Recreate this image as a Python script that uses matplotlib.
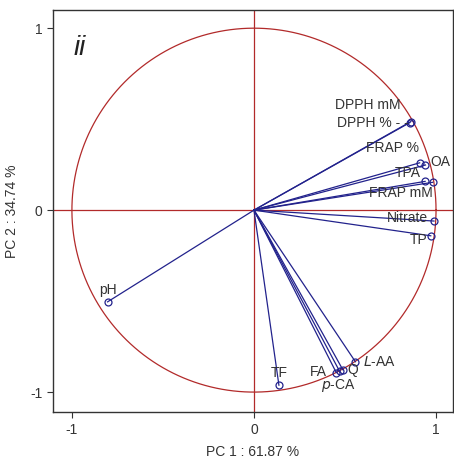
import matplotlib.pyplot as plt
import numpy as np

plt.rcParams['font.family'] = ['Liberation Sans', 'DejaVu Sans']
plt.rcParams['axes.unicode_minus'] = False

# variable loadings on the first two principal components
variables = ["DPPH mM", "DPPH %", "FRAP %", "OA", "TPA", "FRAP mM",
             "Nitrate", "TP", "pH", "TF", "FA", "p-CA", "Q", "L-AA"]
pc1 = [0.862, 0.856, 0.910, 0.942, 0.940, 0.982, 0.989, 0.971,
       -0.804, 0.137, 0.452, 0.470, 0.488, 0.557]
pc2 = [0.487, 0.481, 0.260, 0.248, 0.158, 0.153, -0.060, -0.141,
       -0.504, -0.962, -0.893, -0.885, -0.877, -0.833]

# where each variable name is written
label_x = [0.805, 0.848, 0.907, 0.967, 0.914, 0.984, 0.956, 0.952,
           -0.80, 0.137, 0.401, 0.462, 0.545, 0.598]
label_y = [0.577, 0.478, 0.340, 0.262, 0.205, 0.093, -0.044, -0.165,
           -0.440, -0.896, -0.890, -0.962, -0.878, -0.833]
label_ha = ["right", "right", "right", "left", "right", "right", "right", "right",
            "center", "center", "right", "center", "center", "left"]
label_text = ["DPPH mM", "DPPH % - -", "FRAP %", "OA", "TPA", "FRAP mM",
              "Nitrate", "TP", "pH", "TF", "FA", "$\\it{p}$-CA", "Q", "$\\it{L}$-AA"]

pc1_var = 61.87
pc2_var = 34.74

line_col = "#22228c"
circ_col = "#b22a2a"

fig = plt.figure(figsize=(4.54, 4.62), dpi=100)
ax = fig.add_axes([0.1167, 0.108, 0.881, 0.870])

theta = np.linspace(0, 2 * np.pi, 400)
ax.plot(np.cos(theta), np.sin(theta), color=circ_col, lw=0.9)
ax.axhline(0, color=circ_col, lw=0.9)
ax.axvline(0, color=circ_col, lw=0.9)

for i, name in enumerate(variables):
    ax.plot([0, pc1[i]], [0, pc2[i]], color=line_col, lw=0.9)
    ax.plot(pc1[i], pc2[i], marker="o", ms=5, mfc="none", mec=line_col, mew=0.9)
    ax.text(label_x[i], label_y[i], label_text[i],
            ha=label_ha[i], va="center", fontsize=10, color="#333333")

ax.text(-0.99, 0.89, "ii", fontsize=20, style="italic",
        color="#222222", ha="left", va="center")

ax.set_xlim(-1.104, 1.093)
ax.set_ylim(-1.11, 1.099)
ax.set_xticks([-1, 0, 1])
ax.set_yticks([-1, 0, 1])
ax.tick_params(direction="out", length=4, labelsize=10, colors="#333333")
for s in ax.spines.values():
    s.set_color("#333333")
    s.set_linewidth(1.0)

ax.set_xlabel(f"PC 1 : {pc1_var:.2f} %", fontsize=10, color="#333333", labelpad=6)
ax.set_ylabel(f"PC 2 : {pc2_var:.2f} %", fontsize=10, color="#333333", labelpad=8)

fig.savefig("out.png", dpi=100)
